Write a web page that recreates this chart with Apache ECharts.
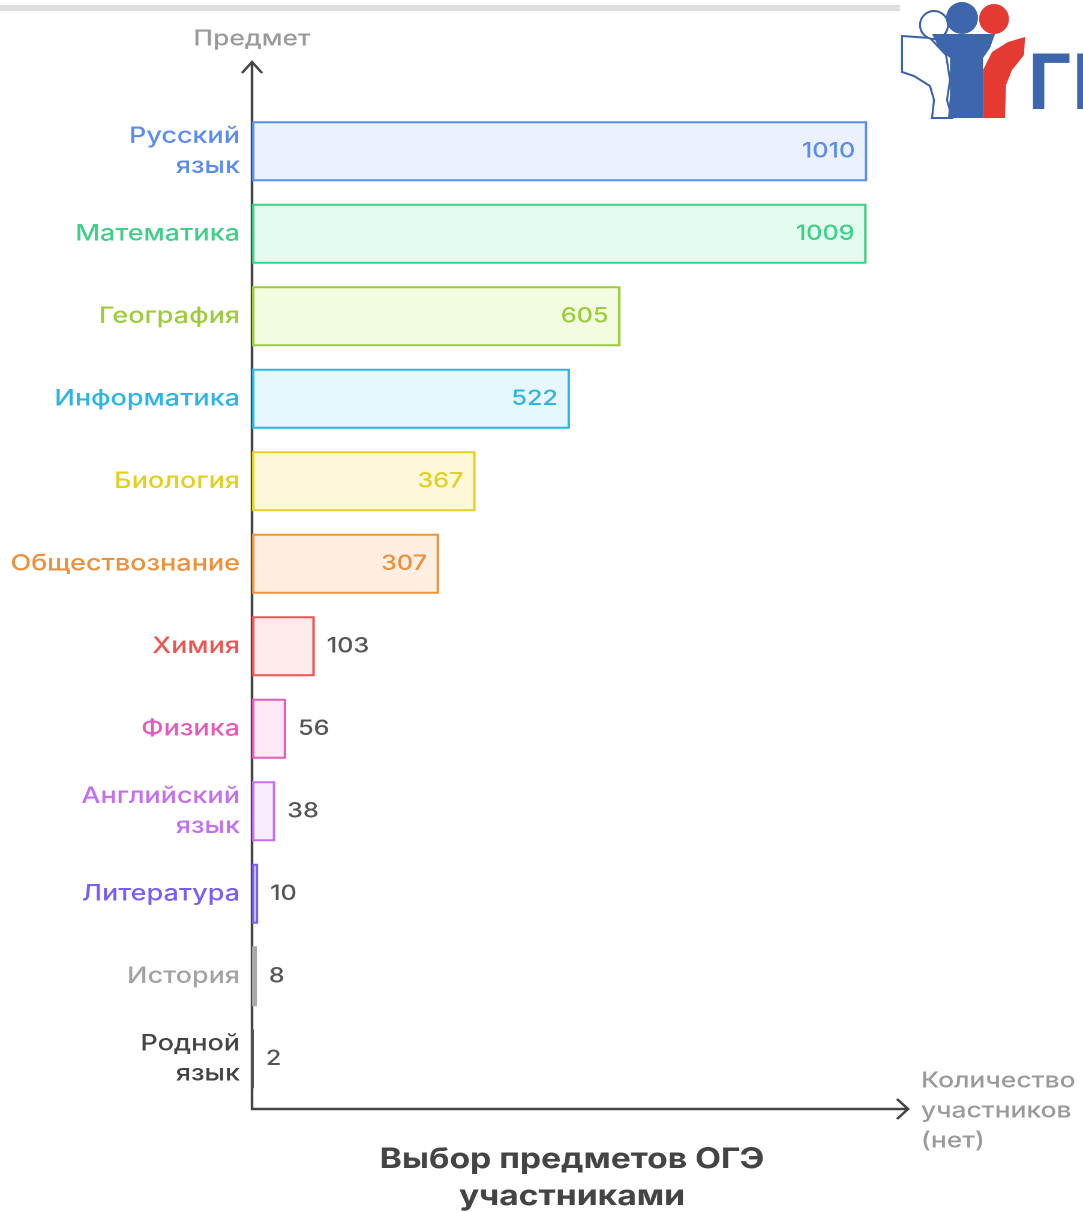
<!DOCTYPE html>
<html>
<head>
<meta charset="utf-8">
<script src="https://cdn.jsdelivr.net/npm/echarts@6/dist/echarts.min.js"></script>
<style>
  html, body { margin: 0; padding: 0; background: #ffffff; overflow: hidden; }
  #wrap { width: 1083px; height: 1213px; overflow: hidden; }
  /* the reference image is horizontally stretched by ~1.2; reproduce that */
  #chart { width: 902.5px; height: 1213px; transform: scaleX(1.2); transform-origin: 0 0; }
</style>
</head>
<body>
<div id="wrap"><div id="chart"></div></div>
<script>
// ---- data ----
const categories = [
  'Русский\nязык', 'Математика', 'География', 'Информатика', 'Биология',
  'Обществознание', 'Химия', 'Физика', 'Английский\nязык', 'Литература',
  'История', 'Родной\nязык'
];
const participants = [1010, 1009, 605, 522, 367, 307, 103, 56, 38, 10, 8, 2];

const titleText = 'Выбор предметов ОГЭ\nучастниками';
const yAxisTitle = 'Предмет';
const xAxisTitle = 'Количество\nучастников\n(нет)';

// ---- styles ----
const strokeColors = ['#5b8def', '#3ecf85', '#9ccc3a', '#2bb5e6', '#e6d21e', '#f0923c',
                      '#ee5552', '#e45cb8', '#c46ef0', '#7b5cf5', '#a9a9a9', '#555555'];
const fillColors = ['#ebf1fe', '#e3fcef', '#f2fce1', '#e6f7fd', '#fdf8d8', '#feefe2',
                    '#fdeaea', '#fde8f5', '#f8edfe', '#efebff', '#dcdcdc', '#888888'];
const labelColors = ['#5b8def', '#3fcf88', '#9ccc3a', '#2bb5e6', '#e3cf1e', '#ee8f3a',
                     '#ee5552', '#e45cb8', '#c46ef0', '#7b5cf5', '#a3a3a3', '#444444'];

const FONT = 'Inter, Roboto, "Noto Sans", sans-serif';
const S = 1.2;              // horizontal stretch applied by CSS
const px = v => v / S;      // reference x-pixel -> pre-stretch x

const chart = echarts.init(document.getElementById('chart'), null, { renderer: 'canvas', devicePixelRatio: 2 });

const barData = participants.map((v, i) => {
  const inside = v > 200;
  return {
    value: v,
    itemStyle: { color: fillColors[i], borderColor: strokeColors[i], borderWidth: 2 },
    label: {
      show: true,
      position: inside ? 'insideRight' : 'right',
      distance: px(12),
      color: inside ? labelColors[i] : '#555555',
      fontSize: 21,
      fontWeight: 500,
      fontFamily: FONT
    }
  };
});

const option = {
  backgroundColor: '#ffffff',
  animation: false,
  grid: { left: px(252), width: px(908 - 252), top: 110, height: 990, containLabel: false },
  xAxis: { type: 'value', min: 0, max: 1077, show: false },
  yAxis: {
    type: 'category',
    inverse: true,
    data: categories,
    axisLine: { show: false },
    axisTick: { show: false },
    splitLine: { show: false },
    axisLabel: {
      margin: px(12),
      align: 'right',
      fontSize: 22.5,
      fontWeight: 500,
      lineHeight: 30,
      fontFamily: FONT,
      color: (val, idx) => labelColors[idx]
    }
  },
  series: [{ type: 'bar', data: barData, barWidth: 60 }],
  graphic: [
    { type: 'rect', shape: { x: 0, y: 5, width: px(900), height: 6 }, style: { fill: '#dedede' } },
    // axes with open arrow heads
    { type: 'polyline', shape: { points: [[px(252), 1110], [px(252), 63]] }, style: { stroke: '#444', lineWidth: 2.2, fill: null } },
    { type: 'polyline', shape: { points: [[px(242), 73], [px(252), 62], [px(262), 73]] }, style: { stroke: '#444', lineWidth: 2.2, fill: null } },
    { type: 'polyline', shape: { points: [[px(251), 1109], [px(907), 1109]] }, style: { stroke: '#444', lineWidth: 2.5, fill: null } },
    { type: 'polyline', shape: { points: [[px(897), 1099], [px(908), 1109], [px(897), 1119]] }, style: { stroke: '#444', lineWidth: 2.3, fill: null } },
    // axis titles
    { type: 'text', x: px(252), y: 39, style: { text: yAxisTitle, fill: '#9a9a9a', font: '500 22px ' + FONT, textAlign: 'center', textVerticalAlign: 'middle' } },
    { type: 'text', x: px(921), y: 1066, style: { text: xAxisTitle, fill: '#9a9a9a', font: '500 22px ' + FONT, lineHeight: 30, textAlign: 'left', textVerticalAlign: 'top' } },
    // title
    { type: 'text', x: px(572), y: 1178, style: { text: titleText, fill: '#444444', font: 'bold 28px ' + FONT, lineHeight: 37, textAlign: 'center', textVerticalAlign: 'middle' } },
    // logo (approximate), drawn un-stretched
    { type: 'group', x: px(900), y: 0, scaleX: 1 / S, children: [
      { type: 'polygon', shape: { points: [[2, 36], [30, 38], [46, 55], [50, 80], [47, 100], [52, 118], [32, 118], [34, 100], [30, 86], [14, 76], [2, 72]] },
        style: { fill: '#ffffff', stroke: '#3a62a8', lineWidth: 2 } },
      { type: 'circle', shape: { cx: 34, cy: 25, r: 14 }, style: { fill: '#ffffff', stroke: '#3a62a8', lineWidth: 2 } },
      { type: 'polygon', shape: { points: [[32, 34], [95, 34], [90, 48], [83, 58], [83, 118], [48, 118], [50, 95], [50, 58], [40, 50]] },
        style: { fill: '#3d66ad' } },
      { type: 'circle', shape: { cx: 62, cy: 18, r: 16 }, style: { fill: '#3d66ad' } },
      { type: 'polygon', shape: { points: [[125, 37], [124, 55], [112, 70], [106, 85], [105, 118], [83, 118], [83, 70], [92, 52], [108, 42]] },
        style: { fill: '#e53a32' } },
      { type: 'circle', shape: { cx: 94, cy: 19, r: 15 }, style: { fill: '#e53a32' } },
      { type: 'text', x: 128, y: 86, style: { text: 'ГИ', fill: '#3d66ad', font: 'bold 76px ' + FONT, textAlign: 'left', textVerticalAlign: 'middle' } }
    ]}
  ]
};

chart.setOption(option);
</script>
</body>
</html>
